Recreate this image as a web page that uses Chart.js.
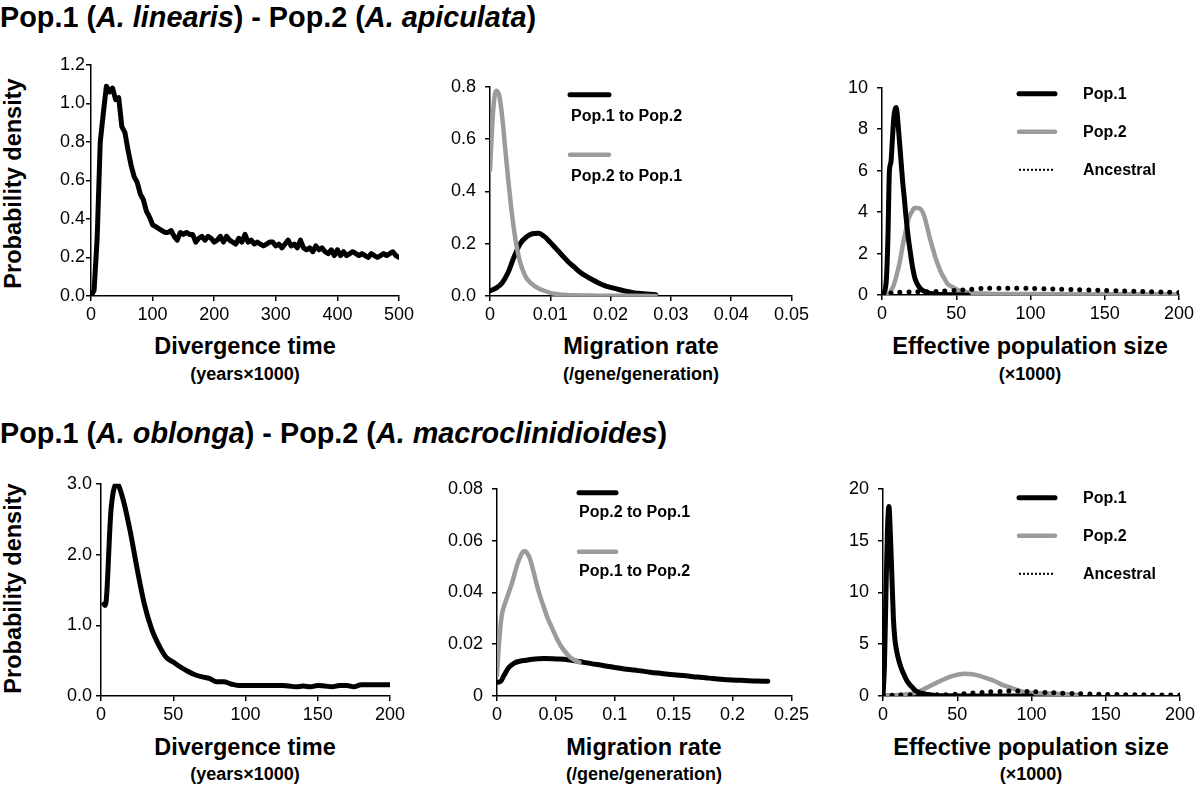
<!DOCTYPE html>
<html>
<head>
<meta charset="utf-8">
<script src="https://cdn.jsdelivr.net/npm/chart.js@4.4.0/dist/chart.umd.min.js"></script>
<style>
body { margin:0; width:1200px; height:785px; background:#fff; position:relative; overflow:hidden;
       font-family:'Liberation Sans', Arial, Helvetica, sans-serif; color:#000; }
.abs { position:absolute; white-space:nowrap; }
.title { font-size:28.8px; font-weight:bold; line-height:28px; left:0; }
.xt { font-size:23.5px; font-weight:bold; line-height:23px; width:400px; text-align:center; }
.xs { font-size:18px; font-weight:bold; line-height:18px; width:300px; text-align:center; }
.yt { font-size:23.5px; font-weight:bold; line-height:23px; width:300px; text-align:center; transform:rotate(-90deg); }
canvas { position:absolute; }
</style>
</head>
<body>
<div class="abs title" style="top:3px">Pop.1 (<i>A. linearis</i>) - Pop.2 (<i>A. apiculata</i>)</div>
<div class="abs title" style="top:419px">Pop.1 (<i>A. oblonga</i>) - Pop.2 (<i>A. macroclinidioides</i>)</div>

<div class="abs yt" style="left:-137px;top:172px">Probability density</div>
<div class="abs yt" style="left:-137px;top:577px">Probability density</div>

<div class="abs xt" style="left:45px;top:335px">Divergence time</div>
<div class="abs xs" style="left:95px;top:365px">(years×1000)</div>
<div class="abs xt" style="left:441px;top:335px">Migration rate</div>
<div class="abs xs" style="left:491px;top:365px">(/gene/generation)</div>
<div class="abs xt" style="left:830px;top:335px">Effective population size</div>
<div class="abs xs" style="left:880px;top:365px">(×1000)</div>

<div class="abs xt" style="left:45px;top:736px">Divergence time</div>
<div class="abs xs" style="left:95px;top:765px">(years×1000)</div>
<div class="abs xt" style="left:444px;top:736px">Migration rate</div>
<div class="abs xs" style="left:494px;top:765px">(/gene/generation)</div>
<div class="abs xt" style="left:831px;top:736px">Effective population size</div>
<div class="abs xs" style="left:881px;top:765px">(×1000)</div>

<canvas id="c1"></canvas>
<canvas id="c2"></canvas>
<canvas id="c3"></canvas>
<canvas id="c4"></canvas>
<canvas id="c5"></canvas>
<canvas id="c6"></canvas>

<script>
// ---------- row 1: A. linearis - A. apiculata ----------
// divergence time (years x 1000)
const divX1 = [0,5,10,15,20,25,30,35,40,45,50,55,60,65,70,75,80,85,90,95,
  100,105,110,115,120,125,130,135,140,145,150,155,160,165,170,175,180,185,190,195,
  200,205,210,215,220,225,230,235,240,245,250,255,260,265,270,275,280,285,290,295,
  300,305,310,315,320,325,330,335,340,345,350,355,360,365,370,375,380,385,390,395,
  400,405,410,415,420,425,430,435,440,445,450,455,460,465,470,475,480,485,490,495,500];
const divY1 = [0.00,0.03,0.30,0.80,0.95,1.09,1.06,1.08,1.02,1.03,0.88,0.85,0.76,0.68,0.62,0.59,0.53,0.50,0.44,0.41,
  0.37,0.36,0.35,0.34,0.33,0.33,0.34,0.31,0.29,0.33,0.32,0.33,0.32,0.32,0.28,0.30,0.31,0.29,0.31,0.30,
  0.28,0.29,0.31,0.28,0.31,0.29,0.28,0.27,0.30,0.28,0.32,0.28,0.29,0.27,0.28,0.27,0.26,0.27,0.28,0.28,
  0.26,0.27,0.25,0.27,0.29,0.26,0.27,0.25,0.29,0.25,0.24,0.25,0.23,0.26,0.24,0.25,0.23,0.22,0.24,0.21,
  0.24,0.21,0.23,0.21,0.22,0.23,0.22,0.21,0.22,0.21,0.20,0.22,0.21,0.20,0.21,0.22,0.21,0.22,0.23,0.21,0.20];

// migration rate (/gene/generation)
const mig12X1 = [0,0.001,0.002,0.003,0.004,0.005,0.006,0.007,0.008,0.009,0.010,0.011,0.012,0.013,0.014,
  0.015,0.016,0.017,0.018,0.019,0.020,0.021,0.022,0.023,0.024,0.025,0.026,0.027,0.0275];
const mig12Y1 = [0.02,0.03,0.05,0.09,0.15,0.20,0.225,0.238,0.24,0.228,0.205,0.18,0.155,0.13,0.11,
  0.09,0.075,0.062,0.05,0.04,0.033,0.027,0.021,0.016,0.012,0.01,0.008,0.006,0.005];
const mig21X1 = [0,0.0005,0.001,0.0015,0.002,0.0025,0.003,0.0035,0.004,0.0045,0.005,0.006,0.007,0.008,
  0.009,0.010,0.011,0.012,0.014,0.016,0.018,0.020,0.024,0.0275];
const mig21Y1 = [0.48,0.70,0.785,0.77,0.69,0.57,0.45,0.34,0.25,0.18,0.13,0.07,0.045,0.03,
  0.02,0.012,0.008,0.005,0.003,0.002,0.001,0.001,0.0005,0];

// effective population size (x 1000)
const nePop1X1 = [1,3,4,5,6,7,8,9,9.5,10,11,12,13,14,15,16,17,18,19,20,22,24,26,28,31,35,40,50,58];
const nePop1Y1 = [0,0.8,2.8,6.0,6.4,7.5,8.6,9.0,9.05,8.9,8.1,7.2,6.3,5.4,4.7,3.9,3.2,2.6,2.1,1.6,0.85,0.5,0.3,0.2,0.1,0.05,0.02,0.01,0];
const nePop2X1 = [4,6,8,10,12,14,16,18,20,22,24,26,28,30,32,34,36,38,40,42,44,47,50,53,56,60,70,80,100,120,150,200];
const nePop2Y1 = [0,0.2,0.5,1.0,1.6,2.4,3.1,3.7,4.0,4.2,4.2,4.15,3.9,3.4,2.8,2.3,1.8,1.4,1.05,0.8,0.55,0.4,0.28,0.2,0.15,0.1,0.07,0.05,0.05,0.04,0.04,0.03];
const neAncX1 = [0,10,20,30,40,50,60,70,80,90,100,110,120,130,140,150,160,170,180,190,200];
const neAncY1 = [0.05,0.12,0.15,0.16,0.18,0.22,0.28,0.32,0.33,0.33,0.32,0.30,0.28,0.26,0.24,0.22,0.20,0.18,0.16,0.14,0.12];

// ---------- row 2: A. oblonga - A. macroclinidioides ----------
const divX2 = [2,3,7,11,15,20,25,30,35,40,45,50,55,60,65,70,75,80,85,90,95,
  100,105,110,115,120,125,130,135,140,145,150,155,160,165,170,175,180,185,190,195,200];
const divY2 = [1.30,1.28,2.65,3.00,2.80,2.35,1.80,1.30,0.95,0.72,0.55,0.48,0.41,0.35,0.30,0.27,0.25,0.20,0.20,0.17,0.15,
  0.15,0.15,0.15,0.15,0.15,0.15,0.14,0.13,0.14,0.13,0.15,0.14,0.13,0.15,0.15,0.13,0.16,0.16,0.16,0.16,0.16];

const mig21X2 = [0,0.003,0.006,0.010,0.015,0.020,0.025,0.030,0.040,0.050,0.060,0.070,0.080,0.090,0.100,
  0.110,0.120,0.130,0.140,0.150,0.160,0.170,0.180,0.190,0.200,0.210,0.220,0.230];
const mig21Y2 = [0.0053,0.0056,0.0080,0.0110,0.0128,0.0135,0.0138,0.0142,0.0145,0.0143,0.0140,0.0133,0.0125,0.0118,0.0110,
  0.0103,0.0098,0.0092,0.0087,0.0082,0.0078,0.0073,0.0069,0.0065,0.0062,0.0060,0.0058,0.0057];
const mig12X2 = [0,0.002,0.004,0.007,0.010,0.013,0.016,0.019,0.021,0.023,0.025,0.028,0.031,0.034,0.037,
  0.040,0.043,0.046,0.050,0.054,0.058,0.062,0.066,0.070];
const mig12Y2 = [0.008,0.022,0.031,0.036,0.040,0.044,0.049,0.053,0.055,0.056,0.0555,0.053,0.048,0.0425,0.038,
  0.034,0.030,0.027,0.023,0.0195,0.017,0.015,0.0138,0.013];

const nePop1X2 = [0,1,2,3,4,5,6,7,8,9,10,12,14,16,18,20,22,25,30,35,40,60,100];
const nePop1Y2 = [0,3,10,16,18.3,15.5,11.5,7.5,5.5,4.5,3.8,2.8,2.1,1.5,1.1,0.8,0.5,0.3,0.15,0.05,0.02,0.01,0];
const nePop2X2 = [0,10,15,20,25,30,35,40,45,50,55,60,65,70,75,80,85,90,95,100,110,120,133];
const nePop2Y2 = [0.05,0.1,0.15,0.25,0.5,0.85,1.2,1.55,1.85,2.05,2.15,2.1,1.95,1.7,1.45,1.1,0.85,0.6,0.4,0.3,0.25,0.2,0.1];
const neAncX2 = [0,10,20,30,40,50,60,70,80,90,100,110,120,130,140,150,160,170,180,190,200];
const neAncY2 = [0.05,0.1,0.1,0.1,0.12,0.18,0.28,0.38,0.45,0.48,0.42,0.34,0.27,0.22,0.18,0.15,0.13,0.12,0.11,0.1,0.1];

// ---------- ticks ----------
const divTicks1 = [0,100,200,300,400,500];
const divLabels1 = ['0','100','200','300','400','500'];
const densTicks1 = [0,0.2,0.4,0.6,0.8,1.0,1.2];
const densLabels1 = ['0.0','0.2','0.4','0.6','0.8','1.0','1.2'];
const migTicks1 = [0,0.01,0.02,0.03,0.04,0.05];
const migLabels1 = ['0','0.01','0.02','0.03','0.04','0.05'];
const migDensTicks1 = [0,0.2,0.4,0.6,0.8];
const migDensLabels1 = ['0.0','0.2','0.4','0.6','0.8'];
const neTicks = [0,50,100,150,200];
const neLabels = ['0','50','100','150','200'];
const neDensTicks1 = [0,2,4,6,8,10];
const neDensLabels1 = ['0','2','4','6','8','10'];

const divTicks2 = [0,50,100,150,200];
const divLabels2 = ['0','50','100','150','200'];
const densTicks2 = [0,1,2,3];
const densLabels2 = ['0.0','1.0','2.0','3.0'];
const migTicks2 = [0,0.05,0.1,0.15,0.2,0.25];
const migLabels2 = ['0','0.05','0.1','0.15','0.2','0.25'];
const migDensTicks2 = [0,0.02,0.04,0.06,0.08];
const migDensLabels2 = ['0','0.02','0.04','0.06','0.08'];
const neDensTicks2 = [0,5,10,15,20];
const neDensLabels2 = ['0','5','10','15','20'];

// ---------- helpers ----------
const FONT = "'Liberation Sans', Arial, Helvetica, sans-serif";
const BLACK = '#000000';
const GRAY = '#9b9b9b';
const Y_W = 60, X_H = 30, PAD_T = 12, PAD_R = 20;

function pts(xs, ys) {
    return xs.map((x, i) => ({ x: x, y: ys[i] }));
}

function solid(label, xs, ys, color, order, smooth) {
    return {
        label: label,
        data: pts(xs, ys),
        borderColor: color,
        borderWidth: color === BLACK ? 5 : 4.5,
        borderCapStyle: 'round',
        borderJoinStyle: 'round',
        pointRadius: 0,
        fill: false,
        order: order,
        tension: 0,
        cubicInterpolationMode: smooth ? 'monotone' : 'default'
    };
}

function dotted(label, xs, ys, order) {
    return {
        label: label,
        data: pts(xs, ys),
        borderColor: BLACK,
        borderWidth: 5,
        borderDash: [0, 9],
        borderCapStyle: 'round',
        pointRadius: 0,
        fill: false,
        order: order,
        tension: 0.3
    };
}

function axis(min, max, vals, labels, isX, pad) {
    return {
        type: 'linear',
        min: min,
        max: max,
        afterBuildTicks: s => { s.ticks = vals.map(v => ({ value: v })); },
        afterFit: s => { if (isX) s.height = X_H; else s.width = Y_W; },
        ticks: {
            color: '#000',
            font: { family: FONT, size: 18 },
            padding: pad,
            maxRotation: 0,
            autoSkip: false,
            callback: (v, i) => labels[i]
        },
        grid: { drawOnChartArea: false, drawTicks: true, tickLength: 5, color: '#000', lineWidth: 1.5 },
        border: { color: '#000', width: 1.5 }
    };
}

// legend drawn inside the plot, one row per dataset
const innerLegend = {
    id: 'innerLegend',
    afterDraw(chart, args, opts) {
        if (!opts || opts.lineX === undefined) return;
        const ctx = chart.ctx;
        const a = chart.chartArea;
        ctx.save();
        ctx.font = 'bold 16px ' + FONT;
        ctx.fillStyle = '#000';
        ctx.textBaseline = 'alphabetic';
        chart.data.datasets.forEach((ds, i) => {
            const x0 = a.left + opts.lineX;
            const y0 = a.top + opts.lineY + i * opts.step;
            ctx.beginPath();
            ctx.strokeStyle = ds.borderColor;
            if (ds.borderDash) {
                ctx.lineWidth = 2;
                ctx.lineCap = 'butt';
                ctx.setLineDash([2, 2]);
            } else {
                ctx.lineWidth = ds.borderWidth;
                ctx.lineCap = 'round';
                ctx.setLineDash([]);
            }
            ctx.moveTo(x0 + 2, y0);
            ctx.lineTo(x0 + opts.lineW - 2, y0);
            ctx.stroke();
            ctx.fillText(ds.label, a.left + opts.textX, a.top + opts.textY + i * opts.step);
        });
        ctx.restore();
    }
};

function makePanel(id, box, datasets, xScale, yScale, legend) {
    const c = document.getElementById(id);
    c.width = box.R - box.L + Y_W + PAD_R;
    c.height = box.B - box.T + PAD_T + X_H;
    c.style.left = (box.L - Y_W) + 'px';
    c.style.top = (box.T - PAD_T) + 'px';
    new Chart(c, {
        type: 'line',
        data: { datasets: datasets },
        options: {
            responsive: false,
            animation: false,
            devicePixelRatio: 1,
            layout: { padding: { top: PAD_T, right: PAD_R, left: 0, bottom: 0 } },
            plugins: {
                legend: { display: false },
                tooltip: { enabled: false },
                innerLegend: legend || {}
            },
            scales: { x: xScale, y: yScale }
        },
        plugins: [innerLegend]
    });
}

// ---------- row 1 ----------
makePanel('c1', { L: 91, R: 399, T: 65, B: 296 },
    [solid('Divergence time', divX1, divY1, BLACK, 0, false)],
    axis(0, 500, divTicks1, divLabels1, true, 3),
    axis(0, 1.2, densTicks1, densLabels1, false, 1));

makePanel('c2', { L: 490, R: 792, T: 79, B: 296 },
    [solid('Pop.1 to Pop.2', mig12X1, mig12Y1, BLACK, 1, true),
     solid('Pop.2 to Pop.1', mig21X1, mig21Y1, GRAY, 0, true)],
    axis(0, 0.05, migTicks1, migLabels1, true, 3),
    axis(0, 0.8, migDensTicks1, migDensLabels1, false, 9),
    { lineX: 78, lineW: 43, lineY: 8, textX: 81, textY: 34, step: 60 });

makePanel('c3', { L: 882, R: 1179, T: 80, B: 295 },
    [solid('Pop.1', nePop1X1, nePop1Y1, BLACK, 1, true),
     solid('Pop.2', nePop2X1, nePop2Y1, GRAY, 2, true),
     dotted('Ancestral', neAncX1, neAncY1, 0)],
    axis(0, 200, neTicks, neLabels, true, 3),
    axis(0, 10, neDensTicks1, neDensLabels1, false, 9),
    { lineX: 135, lineW: 40, lineY: 6, textX: 201, textY: 11, step: 38 });

// ---------- row 2 ----------
makePanel('c4', { L: 101, R: 390, T: 481, B: 696 },
    [solid('Divergence time', divX2, divY2, BLACK, 0, true)],
    axis(0, 200, divTicks2, divLabels2, true, 3),
    axis(0, 3, densTicks2, densLabels2, false, 4));

makePanel('c5', { L: 497, R: 792, T: 481, B: 696 },
    [solid('Pop.2 to Pop.1', mig21X2, mig21Y2, BLACK, 1, true),
     solid('Pop.1 to Pop.2', mig12X2, mig12Y2, GRAY, 0, true)],
    axis(0, 0.25, migTicks2, migLabels2, true, 3),
    axis(0, 0.08, migDensTicks2, migDensLabels2, false, 9),
    { lineX: 80, lineW: 41, lineY: 4, textX: 82, textY: 28, step: 59 });

makePanel('c6', { L: 883, R: 1180, T: 481, B: 696 },
    [solid('Pop.1', nePop1X2, nePop1Y2, BLACK, 1, true),
     solid('Pop.2', nePop2X2, nePop2Y2, GRAY, 2, true),
     dotted('Ancestral', neAncX2, neAncY2, 0)],
    axis(0, 200, neTicks, neLabels, true, 3),
    axis(0, 20, neDensTicks2, neDensLabels2, false, 9),
    { lineX: 134, lineW: 40, lineY: 9, textX: 200, textY: 14, step: 38 });
</script>
</body>
</html>
